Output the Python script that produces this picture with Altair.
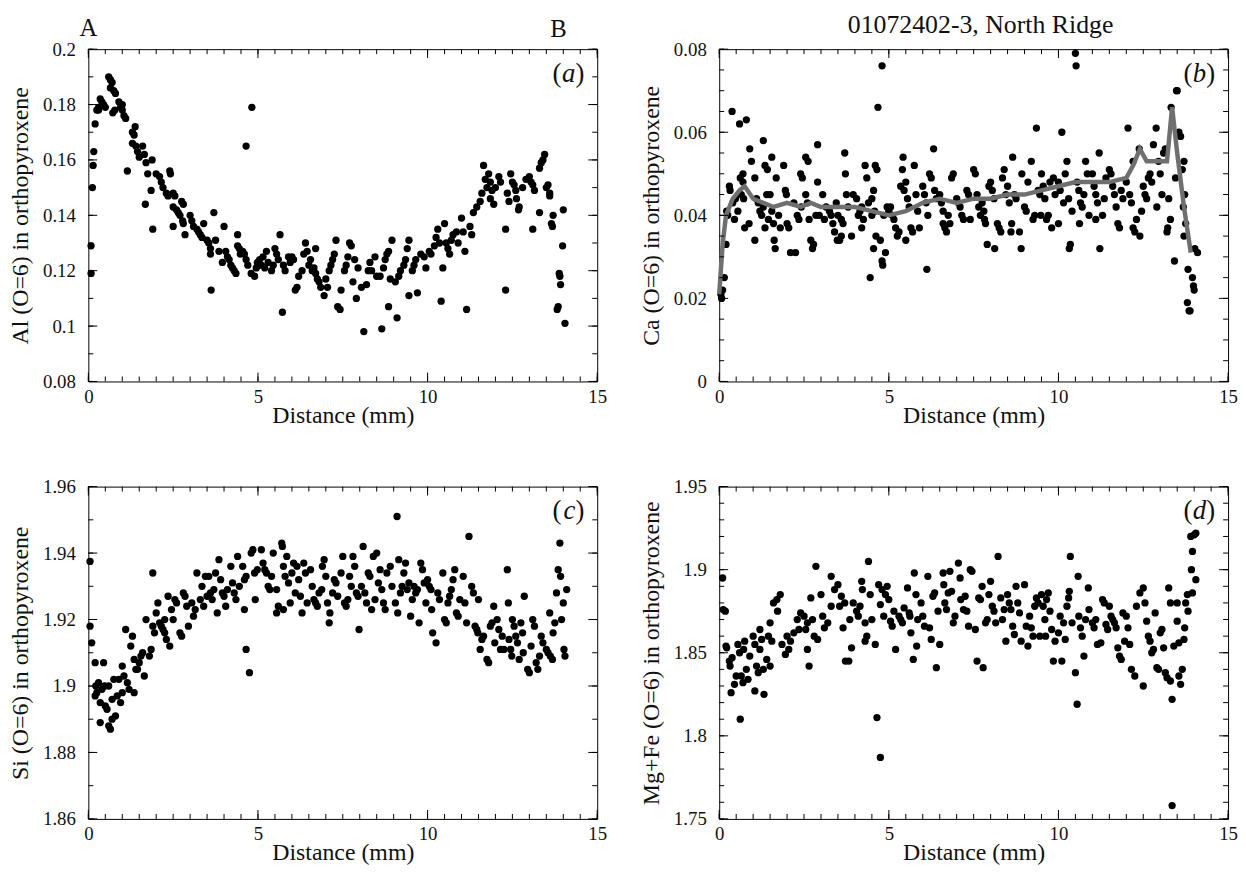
import altair as alt
import pandas as pd

FONT = "Liberation Serif"
W, H = 513, 335

# ---------------- data (distance mm, value) ----------------
al_pts = [
    (0.08, 0.129), (0.08, 0.119), (0.12, 0.150), (0.14, 0.158), (0.16, 0.163), (0.2, 0.173),
    (0.25, 0.178), (0.3, 0.179), (0.35, 0.182), (0.4, 0.181), (0.45, 0.180), (0.5, 0.179), (0.3, 0.178),
    (0.6, 0.190), (0.65, 0.189), (0.7, 0.188), (0.65, 0.186), (0.75, 0.185), (0.8, 0.184), (0.78, 0.178), (0.72, 0.177),
    (0.9, 0.181), (0.95, 0.179), (1.0, 0.178), (1.05, 0.176), (1.1, 0.175), (1.15, 0.156), (1.0, 0.180),
    (1.3, 0.170), (1.35, 0.169), (1.38, 0.172), (1.3, 0.166), (1.4, 0.165), (1.45, 0.163), (1.5, 0.161),
    (1.6, 0.165), (1.65, 0.162), (1.7, 0.159), (1.75, 0.155), (1.68, 0.144), (1.85, 0.149), (1.9, 0.135), (1.88, 0.160),
    (2.0, 0.155), (2.1, 0.154), (2.15, 0.152), (2.2, 0.150), (2.3, 0.148), (2.35, 0.147), (2.4, 0.156), (2.42, 0.155),
    (2.5, 0.148), (2.55, 0.147), (2.5, 0.143), (2.6, 0.142), (2.65, 0.141), (2.5, 0.136), (2.75, 0.145), (2.8, 0.144),
    (2.7, 0.140), (2.78, 0.138), (2.8, 0.137), (2.85, 0.133),
    (3.0, 0.140), (3.05, 0.138), (3.1, 0.136), (3.2, 0.135), (3.3, 0.133), (3.35, 0.132), (3.25, 0.134), (3.4, 0.137),
    (3.5, 0.131), (3.55, 0.130), (3.6, 0.128), (3.6, 0.126), (3.62, 0.113), (3.7, 0.141), (3.75, 0.131), (3.85, 0.127),
    (4.0, 0.136), (3.95, 0.123),
    (4.05, 0.127), (4.1, 0.125), (4.15, 0.124), (4.2, 0.122), (4.25, 0.121), (4.3, 0.120), (4.35, 0.119), (4.4, 0.129),
    (4.4, 0.133), (4.45, 0.128), (4.48, 0.126),
    (4.55, 0.127), (4.6, 0.126), (4.65, 0.124), (4.7, 0.122), (4.8, 0.119), (4.9, 0.118), (4.65, 0.165), (4.82, 0.179),
    (4.95, 0.121), (4.98, 0.123),
    (5.05, 0.124), (5.1, 0.122), (5.2, 0.121), (5.15, 0.125), (5.25, 0.127), (5.3, 0.123), (5.4, 0.120), (5.45, 0.122),
    (5.5, 0.128), (5.55, 0.126), (5.6, 0.124), (5.65, 0.133), (5.72, 0.105), (5.75, 0.122), (5.8, 0.120), (5.9, 0.125),
    (5.95, 0.123),
    (6.0, 0.125), (6.05, 0.124), (6.1, 0.113), (6.15, 0.114), (6.2, 0.118), (6.3, 0.120), (6.35, 0.126), (6.4, 0.130),
    (6.45, 0.127), (6.5, 0.122),
    (6.55, 0.124), (6.6, 0.120), (6.65, 0.121), (6.75, 0.117), (6.8, 0.116), (6.7, 0.119), (6.7, 0.128), (6.85, 0.114),
    (6.95, 0.111),
    (7.0, 0.117), (7.05, 0.114), (7.1, 0.120), (7.15, 0.122), (7.2, 0.124), (7.25, 0.126), (7.3, 0.131), (7.35, 0.107),
    (7.42, 0.106), (7.45, 0.113),
    (7.55, 0.120), (7.6, 0.122), (7.65, 0.125), (7.7, 0.130), (7.75, 0.129), (7.8, 0.116), (7.9, 0.110), (7.85, 0.124),
    (7.95, 0.121),
    (8.12, 0.098), (8.05, 0.114), (8.2, 0.115), (8.25, 0.120), (8.3, 0.123), (8.35, 0.120), (8.45, 0.125), (8.5, 0.118),
    (8.65, 0.099), (8.6, 0.118), (8.7, 0.121), (8.75, 0.124), (8.8, 0.126), (8.85, 0.127), (8.95, 0.131), (8.85, 0.107),
    (8.9, 0.117),
    (9.1, 0.103), (9.05, 0.116), (9.15, 0.118), (9.2, 0.120), (9.3, 0.122), (9.35, 0.124), (9.4, 0.128), (9.45, 0.111),
    (9.45, 0.131),
    (9.7, 0.112), (9.55, 0.120), (9.6, 0.122), (9.65, 0.124), (9.8, 0.126), (9.9, 0.125), (9.95, 0.121),
    (10.05, 0.127), (10.1, 0.126), (10.2, 0.129), (10.25, 0.132), (10.3, 0.135), (10.35, 0.130), (10.4, 0.109), (10.45, 0.121),
    (10.5, 0.137), (10.55, 0.130), (10.6, 0.128), (10.65, 0.126), (10.7, 0.131), (10.75, 0.133), (10.85, 0.134), (10.9, 0.130),
    (11.0, 0.139), (11.05, 0.134), (11.1, 0.127), (11.15, 0.106), (11.25, 0.136), (11.3, 0.133), (11.35, 0.141), (11.45, 0.143),
    (11.55, 0.145), (11.6, 0.148), (11.7, 0.153), (11.65, 0.158), (11.75, 0.150), (11.8, 0.155), (11.85, 0.152), (11.9, 0.149),
    (11.85, 0.146), (11.95, 0.144),
    (12.0, 0.150), (12.1, 0.154), (12.15, 0.152), (12.3, 0.113), (12.3, 0.135), (12.35, 0.148), (12.4, 0.145), (12.45, 0.155),
    (12.5, 0.152), (12.55, 0.151), (12.6, 0.149), (12.62, 0.146), (12.68, 0.142), (12.7, 0.143), (12.8, 0.150), (12.9, 0.153),
    (13.0, 0.154), (13.05, 0.152), (13.1, 0.151), (13.15, 0.149), (13.1, 0.135), (13.3, 0.157), (13.35, 0.159), (13.4, 0.160),
    (13.45, 0.162), (13.3, 0.141),
    (13.5, 0.150), (13.55, 0.151), (13.6, 0.148), (13.6, 0.147), (13.65, 0.137), (13.68, 0.136), (13.7, 0.140), (13.82, 0.106),
    (13.85, 0.107), (13.88, 0.119), (13.9, 0.118), (13.92, 0.115),
    (14.0, 0.142), (13.98, 0.129), (14.05, 0.101),
]

ca_pts = [
    (0.05, 0.021), (0.07, 0.020), (0.1, 0.022), (0.15, 0.025), (0.2, 0.033),
    (0.22, 0.041), (0.25, 0.040), (0.3, 0.047), (0.32, 0.046), (0.38, 0.065), (0.45, 0.039), (0.48, 0.044), (0.4, 0.043),
    (0.6, 0.062), (0.8, 0.063), (0.62, 0.049), (0.7, 0.048), (0.65, 0.045), (0.72, 0.044), (0.75, 0.037), (0.7, 0.050),
    (0.55, 0.041), (0.9, 0.056), (0.95, 0.053), (0.88, 0.038),
    (1.05, 0.049), (1.1, 0.044), (1.15, 0.043), (1.2, 0.041), (1.25, 0.040), (1.05, 0.034), (1.35, 0.052), (1.3, 0.058),
    (1.4, 0.045), (1.3, 0.042), (1.35, 0.037), (1.45, 0.039), (1.42, 0.051),
    (1.55, 0.054), (1.5, 0.045), (1.55, 0.041), (1.6, 0.038), (1.62, 0.034), (1.65, 0.032), (1.68, 0.049), (1.75, 0.040),
    (1.8, 0.037), (1.9, 0.052), (1.95, 0.046), (1.98, 0.045),
    (2.0, 0.038), (2.05, 0.037), (2.1, 0.031), (2.25, 0.031), (2.2, 0.043), (2.3, 0.040), (2.35, 0.039), (2.4, 0.050),
    (2.45, 0.049), (2.42, 0.042),
    (2.55, 0.054), (2.62, 0.053), (2.55, 0.045), (2.6, 0.043), (2.65, 0.039), (2.7, 0.034), (2.78, 0.033), (2.75, 0.032),
    (2.9, 0.057), (2.9, 0.048), (2.85, 0.040), (2.95, 0.040),
    (3.05, 0.045), (3.1, 0.039), (3.15, 0.042), (3.25, 0.041), (3.3, 0.040), (3.35, 0.038), (3.4, 0.036), (3.45, 0.043),
    (3.48, 0.034), (3.5, 0.040),
    (3.7, 0.055), (3.72, 0.050), (3.75, 0.045), (3.6, 0.039), (3.65, 0.038), (3.6, 0.035), (3.55, 0.034), (3.8, 0.042),
    (3.95, 0.045), (3.9, 0.035),
    (4.05, 0.044), (4.1, 0.040), (4.15, 0.041), (4.2, 0.042), (4.2, 0.037), (4.25, 0.039), (4.3, 0.052), (4.35, 0.049),
    (4.4, 0.043), (4.45, 0.025),
    (4.6, 0.052), (4.65, 0.051), (4.55, 0.046), (4.5, 0.044), (4.5, 0.040), (4.58, 0.041), (4.55, 0.032), (4.62, 0.035),
    (4.75, 0.034), (4.68, 0.066), (4.8, 0.076), (4.8, 0.029), (4.82, 0.028), (4.9, 0.031), (4.85, 0.040), (4.95, 0.042),
    (5.0, 0.041), (5.05, 0.042), (5.1, 0.040), (5.15, 0.039), (5.2, 0.037), (5.25, 0.035), (5.3, 0.036), (5.35, 0.047),
    (5.4, 0.051), (5.42, 0.054), (5.45, 0.046),
    (5.5, 0.048), (5.55, 0.044), (5.6, 0.042), (5.65, 0.037), (5.7, 0.036), (5.5, 0.034), (5.75, 0.052), (5.8, 0.045),
    (5.85, 0.041), (5.9, 0.037),
    (6.0, 0.047), (6.05, 0.045), (6.1, 0.043), (6.15, 0.040), (6.12, 0.027), (6.2, 0.050), (6.25, 0.049), (6.32, 0.056),
    (6.35, 0.046), (6.4, 0.044),
    (6.5, 0.045), (6.55, 0.043), (6.6, 0.041), (6.6, 0.038), (6.65, 0.037), (6.7, 0.036), (6.75, 0.040), (6.8, 0.038),
    (6.85, 0.049), (6.9, 0.050),
    (7.0, 0.044), (7.05, 0.043), (7.1, 0.042), (7.15, 0.040), (7.2, 0.039), (7.3, 0.046), (7.35, 0.045), (7.4, 0.039),
    (7.5, 0.051),
    (7.55, 0.050), (7.6, 0.045), (7.65, 0.042), (7.7, 0.040), (7.75, 0.043), (7.8, 0.041), (7.82, 0.039), (7.85, 0.038),
    (7.9, 0.033), (7.95, 0.047),
    (8.0, 0.048), (8.05, 0.046), (8.1, 0.044), (8.12, 0.032), (8.2, 0.038), (8.25, 0.037), (8.3, 0.036), (8.35, 0.049),
    (8.4, 0.051), (8.45, 0.045),
    (8.5, 0.047), (8.55, 0.043), (8.6, 0.036), (8.62, 0.038), (8.65, 0.054), (8.7, 0.045), (8.75, 0.044), (8.9, 0.032),
    (8.85, 0.036), (8.92, 0.050),
    (9.0, 0.042), (9.05, 0.041), (9.1, 0.048), (9.2, 0.053), (9.25, 0.039), (9.3, 0.040), (9.35, 0.061), (9.4, 0.046),
    (9.45, 0.045), (9.48, 0.040),
    (9.5, 0.050), (9.55, 0.047), (9.6, 0.044), (9.65, 0.039), (9.7, 0.040), (9.75, 0.048), (9.85, 0.049), (9.8, 0.037),
    (9.9, 0.045),
    (10.1, 0.060), (10.0, 0.048), (10.05, 0.046), (10.15, 0.043), (10.0, 0.038), (10.2, 0.050), (10.25, 0.053), (10.3, 0.044),
    (10.32, 0.032), (10.35, 0.033), (10.4, 0.041),
    (10.5, 0.079), (10.52, 0.076), (10.55, 0.048), (10.6, 0.046), (10.65, 0.043), (10.62, 0.038), (10.7, 0.042), (10.75, 0.045),
    (10.85, 0.050), (10.8, 0.053), (10.9, 0.040),
    (11.2, 0.055), (11.0, 0.050), (11.05, 0.047), (11.1, 0.045), (11.15, 0.043), (11.1, 0.039), (11.22, 0.032), (11.3, 0.040),
    (11.35, 0.044), (11.4, 0.049),
    (11.5, 0.051), (11.55, 0.050), (11.6, 0.047), (11.65, 0.045), (11.7, 0.042), (11.75, 0.038), (11.8, 0.037), (11.85, 0.046),
    (11.9, 0.044), (12.05, 0.061),
    (12.0, 0.048), (12.2, 0.053), (12.38, 0.056), (12.1, 0.045), (12.15, 0.043), (12.2, 0.037), (12.25, 0.036), (12.4, 0.035),
    (12.3, 0.039), (12.45, 0.041),
    (12.5, 0.047), (12.55, 0.045), (12.6, 0.044), (12.65, 0.049), (12.7, 0.050), (12.8, 0.057), (12.88, 0.061), (12.75, 0.048),
    (12.9, 0.042), (12.95, 0.053),
    (13.0, 0.050), (13.1, 0.055), (13.15, 0.056), (13.05, 0.045), (13.2, 0.036), (13.22, 0.037), (13.25, 0.044), (13.3, 0.039),
    (13.32, 0.066), (13.42, 0.029), (13.48, 0.070), (13.5, 0.070), (13.45, 0.049),
    (13.55, 0.060), (13.6, 0.059), (13.65, 0.051), (13.7, 0.053), (13.72, 0.045), (13.68, 0.042), (13.75, 0.038), (13.7, 0.035),
    (13.82, 0.027), (13.8, 0.019), (13.85, 0.017), (13.88, 0.017),
    (13.95, 0.025), (13.98, 0.023), (14.0, 0.022), (14.02, 0.032), (14.1, 0.031),
]

ca_trend = [
    (0.0, 0.021), (0.1, 0.033), (0.2, 0.040), (0.4, 0.044), (0.6, 0.046), (0.75, 0.047), (1.0, 0.044),
    (1.3, 0.043), (1.6, 0.042), (2.0, 0.043), (2.4, 0.042), (2.7, 0.043), (3.0, 0.042), (3.5, 0.042),
    (4.0, 0.042), (4.5, 0.041), (5.0, 0.040), (5.5, 0.041), (6.0, 0.043), (6.5, 0.044), (7.0, 0.043),
    (7.5, 0.044), (8.0, 0.044), (8.5, 0.045), (9.0, 0.045), (9.5, 0.046), (10.0, 0.047), (10.5, 0.048),
    (11.0, 0.048), (11.5, 0.048), (12.0, 0.049), (12.2, 0.052), (12.4, 0.056), (12.6, 0.053), (12.8, 0.053),
    (13.0, 0.053), (13.2, 0.053), (13.35, 0.066), (13.5, 0.055), (13.7, 0.042), (13.9, 0.031),
]

si_pts = [
    (0.05, 1.9375), (0.05, 1.918), (0.1, 1.913),
    (0.2, 1.907), (0.22, 1.900), (0.25, 1.898), (0.2, 1.897), (0.3, 1.901), (0.35, 1.895), (0.35, 1.889), (0.45, 1.907),
    (0.4, 1.899), (0.48, 1.900),
    (0.5, 1.894), (0.55, 1.893), (0.65, 1.887), (0.6, 1.888), (0.7, 1.890), (0.6, 1.900), (0.75, 1.902), (0.7, 1.896),
    (0.8, 1.891), (0.9, 1.902), (0.85, 1.897),
    (1.0, 1.906), (1.05, 1.903), (1.0, 1.898), (0.95, 1.895), (1.1, 1.917), (1.15, 1.901), (1.2, 1.899), (1.25, 1.912),
    (1.3, 1.915), (1.35, 1.908), (1.4, 1.905), (1.35, 1.898),
    (1.5, 1.907), (1.55, 1.909), (1.6, 1.910), (1.45, 1.905), (1.65, 1.903), (1.7, 1.920), (1.85, 1.911), (1.8, 1.909),
    (1.9, 1.934), (1.95, 1.916), (1.9, 1.918),
    (2.0, 1.922), (2.05, 1.925), (2.1, 1.919), (2.15, 1.918), (2.2, 1.917), (2.25, 1.916), (2.3, 1.914), (2.25, 1.920),
    (2.35, 1.927), (2.45, 1.923), (2.4, 1.912),
    (2.55, 1.926), (2.6, 1.925), (2.5, 1.920), (2.7, 1.916), (2.75, 1.915), (2.8, 1.928), (2.85, 1.927), (2.9, 1.924),
    (2.95, 1.918),
    (3.05, 1.925), (3.1, 1.921), (3.15, 1.923), (3.2, 1.934), (3.35, 1.930), (3.3, 1.926), (3.4, 1.924), (3.45, 1.933),
    (3.5, 1.927),
    (3.55, 1.933), (3.6, 1.928), (3.65, 1.926), (3.7, 1.929), (3.85, 1.938), (3.9, 1.932), (3.8, 1.922), (3.75, 1.934),
    (3.95, 1.928),
    (4.0, 1.927), (4.05, 1.924), (4.1, 1.929), (4.2, 1.936), (4.25, 1.931), (4.3, 1.928), (4.35, 1.926), (4.4, 1.939),
    (4.45, 1.930),
    (4.55, 1.936), (4.6, 1.932), (4.65, 1.933), (4.6, 1.923), (4.65, 1.911), (4.75, 1.904), (4.8, 1.940), (4.85, 1.941),
    (4.9, 1.934), (4.92, 1.926), (4.98, 1.935),
    (5.1, 1.941), (5.15, 1.937), (5.2, 1.935), (5.25, 1.934), (5.3, 1.930), (5.35, 1.929), (5.4, 1.933), (5.45, 1.940),
    (5.7, 1.943), (5.72, 1.942), (5.75, 1.936), (5.8, 1.933), (5.55, 1.922), (5.6, 1.924), (5.75, 1.923), (5.85, 1.939),
    (5.9, 1.931), (5.55, 1.929), (5.95, 1.925), (6.0, 1.934),
    (6.05, 1.937), (6.15, 1.936), (6.2, 1.932), (6.1, 1.928), (6.25, 1.927), (6.3, 1.922), (6.35, 1.937), (6.4, 1.934),
    (6.45, 1.925),
    (6.55, 1.935), (6.6, 1.930), (6.65, 1.926), (6.7, 1.925), (6.75, 1.924), (6.8, 1.928), (6.9, 1.936), (6.95, 1.938),
    (6.88, 1.929), (7.0, 1.933),
    (7.05, 1.925), (7.1, 1.919), (7.12, 1.922), (7.2, 1.928), (7.25, 1.932), (7.3, 1.931), (7.35, 1.927), (7.45, 1.934),
    (7.5, 1.939),
    (7.55, 1.925), (7.6, 1.924), (7.65, 1.926), (7.7, 1.933), (7.75, 1.930), (7.8, 1.939), (7.85, 1.936), (7.9, 1.928),
    (7.95, 1.927), (7.98, 1.917),
    (8.1, 1.942), (8.05, 1.930), (8.15, 1.928), (8.2, 1.925), (8.25, 1.934), (8.3, 1.933), (8.35, 1.923), (8.4, 1.939),
    (8.45, 1.926),
    (8.5, 1.940), (8.55, 1.931), (8.6, 1.935), (8.65, 1.929), (8.7, 1.925), (8.75, 1.923), (8.8, 1.934), (8.9, 1.936),
    (8.95, 1.930),
    (9.1, 1.951), (9.15, 1.938), (9.12, 1.922), (9.05, 1.925), (9.2, 1.928), (9.25, 1.930), (9.3, 1.934), (9.35, 1.937),
    (9.4, 1.929), (9.45, 1.931),
    (9.5, 1.921), (9.55, 1.926), (9.6, 1.930), (9.65, 1.928), (9.7, 1.929), (9.75, 1.919), (9.8, 1.937), (9.85, 1.935),
    (9.9, 1.931), (9.95, 1.925),
    (10.0, 1.932), (10.05, 1.930), (10.1, 1.929), (10.12, 1.923), (10.15, 1.916), (10.25, 1.913), (10.3, 1.928),
    (10.35, 1.926), (10.45, 1.934),
    (10.5, 1.920), (10.55, 1.919), (10.6, 1.925), (10.65, 1.927), (10.7, 1.929), (10.75, 1.932), (10.8, 1.935),
    (10.85, 1.922), (10.9, 1.921), (10.95, 1.926),
    (11.05, 1.933), (11.1, 1.925), (11.15, 1.919), (11.22, 1.945), (11.3, 1.930), (11.35, 1.928), (11.4, 1.918),
    (11.45, 1.917), (11.48, 1.916),
    (11.5, 1.926), (11.55, 1.911), (11.6, 1.914), (11.65, 1.915), (11.8, 1.907), (11.75, 1.908), (11.85, 1.918),
    (11.9, 1.919), (11.95, 1.924), (11.98, 1.913),
    (12.05, 1.920), (12.1, 1.917), (12.15, 1.911), (12.25, 1.911), (12.2, 1.915), (12.35, 1.935), (12.38, 1.925),
    (12.4, 1.914), (12.45, 1.911), (12.48, 1.909),
    (12.5, 1.920), (12.55, 1.918), (12.6, 1.915), (12.65, 1.913), (12.7, 1.908), (12.75, 1.919), (12.8, 1.916),
    (12.82, 1.910), (12.85, 1.927), (12.95, 1.905),
    (13.0, 1.904), (13.05, 1.912), (13.1, 1.920), (13.15, 1.918), (13.2, 1.907), (13.25, 1.905), (13.3, 1.909),
    (13.35, 1.915), (13.4, 1.913),
    (13.5, 1.911), (13.55, 1.910), (13.6, 1.922), (13.62, 1.909), (13.68, 1.908), (13.7, 1.916), (13.75, 1.919),
    (13.8, 1.928), (13.85, 1.935), (13.9, 1.943), (13.92, 1.933),
    (13.95, 1.920), (14.0, 1.925), (14.02, 1.911), (14.05, 1.909), (14.1, 1.929),
]

mf_pts = [
    (0.1, 1.895), (0.12, 1.876), (0.18, 1.875), (0.2, 1.854), (0.22, 1.853),
    (0.3, 1.845), (0.32, 1.842), (0.38, 1.847), (0.35, 1.826), (0.45, 1.831), (0.5, 1.836),
    (0.55, 1.855), (0.6, 1.850), (0.62, 1.810), (0.65, 1.836), (0.7, 1.832), (0.8, 1.840), (0.75, 1.857), (0.72, 1.852),
    (0.9, 1.848), (0.85, 1.834),
    (1.0, 1.860), (1.05, 1.855), (1.1, 1.842), (1.05, 1.827), (1.15, 1.838), (1.2, 1.864), (1.25, 1.858), (1.2, 1.852),
    (1.3, 1.840), (1.32, 1.825),
    (1.5, 1.868), (1.45, 1.860), (1.55, 1.857), (1.4, 1.846), (1.5, 1.842), (1.6, 1.880), (1.7, 1.882), (1.8, 1.885),
    (1.72, 1.875), (1.85, 1.855),
    (2.0, 1.860), (2.05, 1.852), (1.95, 1.849), (2.1, 1.857), (2.2, 1.862), (2.3, 1.870), (2.4, 1.874), (2.35, 1.864),
    (2.5, 1.872), (2.6, 1.868), (2.55, 1.864), (2.6, 1.852), (2.65, 1.842), (2.7, 1.883), (2.75, 1.870), (2.8, 1.860),
    (2.85, 1.902), (2.9, 1.858),
    (3.0, 1.885), (3.05, 1.872), (3.1, 1.865), (3.2, 1.868), (3.3, 1.878), (3.3, 1.896), (3.4, 1.888),
    (3.5, 1.891), (3.6, 1.884), (3.55, 1.878), (3.7, 1.880), (3.65, 1.865), (3.72, 1.845), (3.82, 1.845), (3.85, 1.870),
    (3.9, 1.853), (3.95, 1.880),
    (4.05, 1.875), (4.1, 1.872), (4.15, 1.878), (4.2, 1.893), (4.22, 1.888), (4.3, 1.868), (4.35, 1.860), (4.3, 1.857),
    (4.45, 1.885), (4.4, 1.905),
    (4.5, 1.870), (4.6, 1.855), (4.65, 1.811), (4.75, 1.787), (4.7, 1.891), (4.8, 1.888), (4.75, 1.879), (4.85, 1.872),
    (4.9, 1.885), (4.95, 1.890),
    (5.0, 1.882), (5.05, 1.869), (5.1, 1.866), (5.15, 1.875), (5.2, 1.852), (5.3, 1.872), (5.35, 1.870), (5.4, 1.868),
    (5.45, 1.877),
    (5.55, 1.889), (5.6, 1.874), (5.62, 1.872), (5.65, 1.862), (5.75, 1.898), (5.72, 1.846), (5.8, 1.885), (5.85, 1.870),
    (5.82, 1.854), (5.95, 1.880),
    (6.0, 1.872), (6.05, 1.866), (6.15, 1.896), (6.2, 1.865), (6.25, 1.858), (6.3, 1.884), (6.35, 1.886), (6.4, 1.841),
    (6.45, 1.875),
    (6.5, 1.855), (6.6, 1.898), (6.62, 1.891), (6.65, 1.880), (6.7, 1.876), (6.75, 1.886), (6.8, 1.899), (6.85, 1.887),
    (6.9, 1.868), (6.95, 1.872),
    (7.05, 1.904), (7.1, 1.895), (7.12, 1.882), (7.2, 1.876), (7.25, 1.884), (7.3, 1.875), (7.4, 1.900), (7.45, 1.899),
    (7.35, 1.866),
    (7.6, 1.845), (7.55, 1.864), (7.65, 1.883), (7.7, 1.882), (7.75, 1.890), (7.78, 1.841), (7.85, 1.868), (7.9, 1.870),
    (7.95, 1.885),
    (8.0, 1.893), (8.05, 1.878), (8.1, 1.875), (8.15, 1.868), (8.22, 1.908), (8.3, 1.883), (8.35, 1.870), (8.4, 1.876),
    (8.45, 1.857),
    (8.5, 1.885), (8.55, 1.880), (8.6, 1.876), (8.65, 1.866), (8.7, 1.861), (8.75, 1.890), (8.8, 1.880), (8.85, 1.874),
    (8.9, 1.857),
    (9.0, 1.891), (9.05, 1.866), (9.1, 1.854), (9.15, 1.872), (9.2, 1.865), (9.25, 1.860), (9.3, 1.878), (9.35, 1.883),
    (9.4, 1.880), (9.45, 1.860),
    (9.5, 1.885), (9.55, 1.878), (9.6, 1.870), (9.62, 1.860), (9.65, 1.882), (9.7, 1.886), (9.75, 1.875), (9.8, 1.864),
    (9.85, 1.845), (9.9, 1.857),
    (10.0, 1.862), (10.1, 1.845), (10.05, 1.872), (10.15, 1.868), (10.2, 1.858), (10.25, 1.878), (10.3, 1.883),
    (10.32, 1.887), (10.35, 1.908), (10.4, 1.868),
    (10.5, 1.838), (10.55, 1.819), (10.58, 1.896), (10.6, 1.872), (10.65, 1.865), (10.7, 1.860), (10.75, 1.848),
    (10.8, 1.870), (10.88, 1.889), (10.9, 1.876),
    (11.0, 1.868), (11.05, 1.865), (11.1, 1.870), (11.15, 1.855), (11.25, 1.856), (11.3, 1.882), (11.35, 1.880),
    (11.4, 1.867), (11.45, 1.864),
    (11.5, 1.878), (11.55, 1.872), (11.6, 1.870), (11.65, 1.868), (11.7, 1.865), (11.75, 1.853), (11.8, 1.848),
    (11.85, 1.846), (11.9, 1.874), (11.95, 1.857),
    (12.0, 1.872), (12.05, 1.865), (12.1, 1.855), (12.15, 1.840), (12.25, 1.836), (12.3, 1.878), (12.4, 1.886),
    (12.5, 1.889), (12.5, 1.830),
    (12.55, 1.880), (12.6, 1.869), (12.65, 1.860), (12.7, 1.857), (12.75, 1.850), (12.8, 1.852), (12.85, 1.874),
    (12.9, 1.841), (12.95, 1.840), (13.0, 1.862),
    (13.05, 1.864), (13.1, 1.853), (13.15, 1.838), (13.2, 1.835), (13.25, 1.889), (13.3, 1.880), (13.3, 1.833),
    (13.35, 1.822), (13.35, 1.758), (13.4, 1.854),
    (13.5, 1.880), (13.5, 1.869), (13.55, 1.856), (13.55, 1.836), (13.6, 1.831), (13.65, 1.840), (13.7, 1.858),
    (13.72, 1.865), (13.75, 1.880), (13.8, 1.885), (13.82, 1.875),
    (13.9, 1.920), (13.92, 1.900), (13.95, 1.911), (14.0, 1.921), (14.05, 1.922), (14.05, 1.894), (13.95, 1.886),
]

# axis tick values
x_major = [0, 5, 10, 15]
x_minor = [i * 0.5 for i in range(31)]
al_major = [0.08, 0.1, 0.12, 0.14, 0.16, 0.18, 0.2]
al_minor = [round(0.08 + 0.01 * i, 3) for i in range(13)]
ca_major = [0, 0.02, 0.04, 0.06, 0.08]
ca_minor = [round(0.005 * i, 3) for i in range(17)]
si_major = [1.86, 1.88, 1.9, 1.92, 1.94, 1.96]
si_minor = [round(1.86 + 0.01 * i, 3) for i in range(11)]
mf_major = [1.75, 1.8, 1.85, 1.9, 1.95]
mf_minor = [round(1.75 + 0.01 * i, 3) for i in range(21)]

LEN_MAJ, LEN_MIN = 9, 5


def panel(pts, ydom, ymaj, ymin, ytitle, letter, trend=None, extra=None, title=None):
    xs = alt.Scale(domain=[0, 15], nice=False, zero=False)
    ys = alt.Scale(domain=ydom, nice=False, zero=False)
    xax = alt.Axis(values=x_major, title="Distance (mm)", format="d", labelFlush=False)
    yax = alt.Axis(values=ymaj, title=ytitle, format="~g", labelFlush=False)

    def X(f):
        return alt.X(f, type="quantitative", scale=xs, axis=xax)

    def Y(f):
        return alt.Y(f, type="quantitative", scale=ys, axis=yax)

    layers = [
        alt.Chart(pd.DataFrame(pts, columns=["d", "v"]))
        .mark_circle(size=54, color="black", opacity=1)
        .encode(x=X("d"), y=Y("v"))
    ]
    if trend is not None:
        layers.append(
            alt.Chart(pd.DataFrame(trend, columns=["d", "v"]))
            .mark_line(color="#6f6f6f", strokeWidth=4.5)
            .encode(x=X("d"), y=Y("v"))
        )
    # inward ticks on all four sides
    for vals, L in ((x_minor, LEN_MIN), (x_major, LEN_MAJ)):
        base = alt.Chart(pd.DataFrame({"d": vals})).mark_rule(color="black", strokeWidth=1)
        layers.append(base.encode(x=X("d"), y=alt.value(0), y2=alt.value(L)))
        layers.append(base.encode(x=X("d"), y=alt.value(H), y2=alt.value(H - L)))
    for vals, L in ((ymin, LEN_MIN), (ymaj, LEN_MAJ)):
        base = alt.Chart(pd.DataFrame({"v": vals})).mark_rule(color="black", strokeWidth=1)
        layers.append(base.encode(y=Y("v"), x=alt.value(0), x2=alt.value(L)))
        layers.append(base.encode(y=Y("v"), x=alt.value(W), x2=alt.value(W - L)))
    # panel letter "(x)" with italic letter
    d1 = pd.DataFrame({"k": [0]})
    common = dict(font=FONT, fontSize=27, color="#111", baseline="middle", align="right")
    layers += [
        alt.Chart(d1).mark_text(text=")", **common).encode(x=alt.value(W - 13), y=alt.value(25)),
        alt.Chart(d1).mark_text(text=letter, fontStyle="italic", **common).encode(x=alt.value(W - 22), y=alt.value(25)),
        alt.Chart(d1).mark_text(text="(", **common).encode(x=alt.value(W - 36), y=alt.value(25)),
    ]
    if extra:
        layers += extra
    props = dict(width=W, height=H)
    if title is not None:
        props["title"] = title
    return alt.layer(*layers).properties(**props)


ab = pd.DataFrame({"k": [0]})
ab_layers = [
    alt.Chart(ab).mark_text(text="A", font=FONT, fontSize=25, color="#111", baseline="alphabetic", align="center")
    .encode(x=alt.value(0), y=alt.value(-13)),
    alt.Chart(ab).mark_text(text="B", font=FONT, fontSize=25, color="#111", baseline="alphabetic", align="center")
    .encode(x=alt.value(474), y=alt.value(-12)),
]

pa = panel(al_pts, [0.08, 0.2], al_major, al_minor, "Al (O=6) in orthopyroxene", "a", extra=ab_layers)
pb = panel(
    ca_pts, [0, 0.08], ca_major, ca_minor, "Ca (O=6) in orthopyroxene", "b", trend=ca_trend,
    title=alt.TitleParams("01072402-3, North Ridge", font=FONT, fontSize=26, fontWeight="normal",
                          color="#111", anchor="middle", offset=2, dx=7),
)
pc = panel(si_pts, [1.86, 1.96], si_major, si_minor, "Si (O=6) in orthopyroxene", "c")
pd_ = panel(mf_pts, [1.75, 1.95], mf_major, mf_minor, "Mg+Fe (O=6) in orthopyroxene", "d")

chart = (
    alt.concat(pa, pb, pc, pd_, columns=2, spacing={"row": 106, "column": 123}, bounds="flush")
    .properties(padding={"left": 0, "top": 0, "right": 0, "bottom": 0})
    .configure_view(stroke="black", strokeWidth=1)
    .configure_axis(
        labelFont=FONT, titleFont=FONT, labelFontSize=19, titleFontSize=24, titleFontWeight="normal",
        labelColor="#111", titleColor="#111", ticks=False, domain=False, grid=False,
    )
    .configure_axisY(labelPadding=13, titlePadding=10)
    .configure_axisX(labelPadding=6, titlePadding=-3)
)

chart.save("out.html", embed_options={"renderer": "svg", "actions": False})
